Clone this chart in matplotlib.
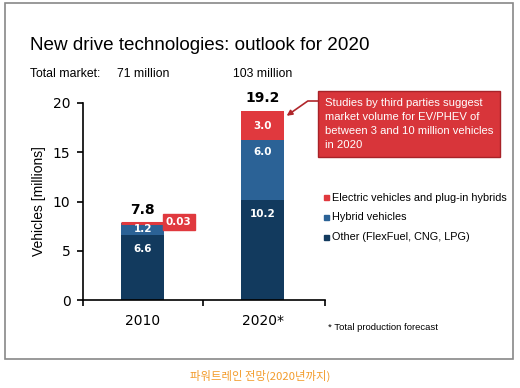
import matplotlib
matplotlib.use("Agg")
import matplotlib.pyplot as plt
from matplotlib.patches import Rectangle
import numpy as np

# datos
years = ["2010", "2020*"]
other = [6.6, 10.2]
hybrid = [1.2, 6.0]
electric = [0.03, 3.0]
totals = [7.8, 19.2]
markets = ["71 million", "103 million"]
legend_labels = ["Electric vehicles and plug-in hybrids", "Hybrid vehicles",
                 "Other (FlexFuel, CNG, LPG)"]

c_other = "#123a5e"
c_hybrid = "#2b6296"
c_elec = "#e0393e"

plt.rcParams["font.family"] = ["Liberation Sans", "DejaVu Sans"]

fig = plt.figure(figsize=(5.2, 3.88), dpi=100)
ax = fig.add_axes([83/520, 1-300/388, (325-83)/520, (300-103)/388])

x = np.arange(len(years))
w = 0.36
bottom2 = np.array(other) + np.array(hybrid)
ax.bar(x, other, w, color=c_other)
ax.bar(x, hybrid, w, bottom=other, color=c_hybrid)
ax.bar(x, electric, w, bottom=bottom2, color=c_elec, edgecolor=c_elec,
       linewidth=[2.2, 0])

lab = dict(color="white", fontsize=7.5, fontweight="bold", ha="center",
           va="center", family="DejaVu Sans")
for i in range(len(years)):
    ax.text(x[i], other[i] - 1.45, f"{other[i]:.1f}", **lab)
    y_h = max(other[i] + hybrid[i] / 2, bottom2[i] - 1.2)
    ax.text(x[i], y_h, f"{hybrid[i]:.1f}", **lab)
    ax.text(x[i], totals[i] + 0.6, f"{totals[i]:.1f}", ha="center", va="bottom",
            fontsize=10, fontweight="bold", family="DejaVu Sans")
ax.text(x[1], bottom2[1] + electric[1] / 2, f"{electric[1]:.1f}", **lab)
ax.text(x[0] + 0.3, bottom2[0] + 0.1, f"{electric[0]:.2f}", ha="center", va="center",
        color="white", fontsize=7.5, fontweight="bold", family="DejaVu Sans",
        bbox=dict(boxstyle="square,pad=0.3", fc=c_elec, ec=c_elec))

ax.set_xlim(-0.5, 1.52)
ax.set_ylim(0, 20)
ax.set_yticks([0, 5, 10, 15, 20])
ax.set_xticks(x)
ax.set_xticklabels(years)
ax.set_xticks([-0.5, 0.5, 1.52], minor=True)
ax.tick_params(axis="x", which="major", length=0, pad=10, labelsize=10)
ax.tick_params(axis="x", which="minor", length=4, width=1.2, direction="out")
ax.tick_params(axis="y", length=4, width=1.2, labelsize=10, pad=5)
for lbl in ax.get_xticklabels() + ax.get_yticklabels():
    lbl.set_family("DejaVu Sans")
for s in ["top", "right"]:
    ax.spines[s].set_visible(False)
for s in ["left", "bottom"]:
    ax.spines[s].set_linewidth(1.2)
ax.set_ylabel("Vehicles [millions]", fontsize=10, labelpad=5)

# titulo y textos
fig.text(30/520, 1-45/388, "New drive technologies: outlook for 2020", fontsize=13.6,
         va="center")
fig.text(30/520, 1-74/388, "Total market:", fontsize=8.8, va="center")
fig.text(143/520, 1-74/388, markets[0], fontsize=8.8, va="center", ha="center")
fig.text(263/520, 1-74/388, markets[1], fontsize=8.8, va="center", ha="center")

# caja de nota
fig.text(325/520, 1-124/388,
         "Studies by third parties suggest\nmarket volume for EV/PHEV of\n"
         "between 3 and 10 million vehicles\nin 2020",
         fontsize=8.1, color="white", va="center", ha="left", linespacing=1.5,
         bbox=dict(boxstyle="square,pad=0.6", fc="#d8353a", ec="#a82228", lw=1))
ax.annotate("", xy=(x[1] + w / 2 + 0.02, 18.7), xycoords="data",
            xytext=(318/520, 1-101/388), textcoords="figure fraction",
            annotation_clip=False,
            arrowprops=dict(arrowstyle="-|>", color="#b0262b", lw=1.2,
                            shrinkA=0, shrinkB=0, mutation_scale=8,
                            connectionstyle="angle,angleA=0,angleB=35,rad=0"))

# leyenda
colors = [c_elec, c_hybrid, c_other]
for k, (lbl, col) in enumerate(zip(legend_labels, colors)):
    yy = 1 - (198 + k * 19.5) / 388
    fig.patches.append(Rectangle((324/520, yy - 2.5/388), 5/520, 5/388,
                                 transform=fig.transFigure, color=col))
    fig.text(332/520, yy, lbl, fontsize=7.8, va="center")

fig.text(328/520, 1-328/388, "* Total production forecast", fontsize=6.8, va="center")

# marco
fig.patches.append(Rectangle((5/520, 1-359/388), 508/520, 356/388, fill=False,
                             ec="#888888", lw=1.2, transform=fig.transFigure))

fig.text(0.5, 1-376/388, "파워트레인 전망(2020년까지)", ha="center", va="center",
         fontsize=8.2, color="#f39c2c", family=["Noto Sans CJK KR", "DejaVu Sans"])

fig.savefig("out.png", dpi=100)
